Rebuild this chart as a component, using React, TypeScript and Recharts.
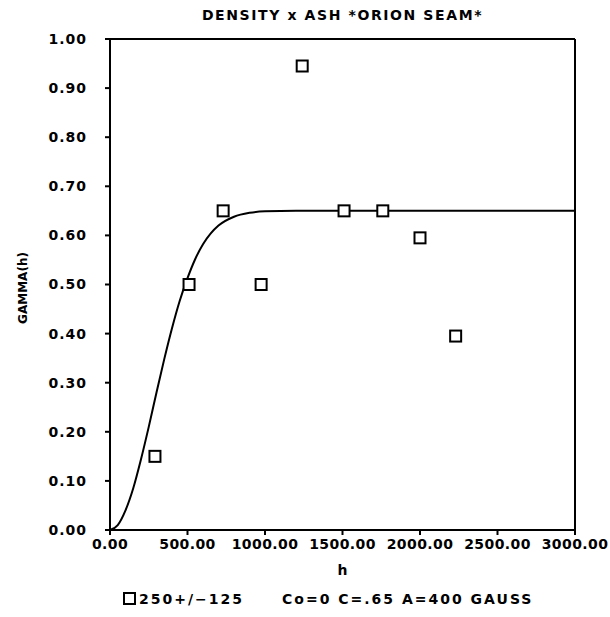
import { ComposedChart, Line, Scatter, XAxis, YAxis, ReferenceLine } from 'recharts';

// experimental variogram points (lag h, gamma)
const lagH = [290, 510, 730, 975, 1240, 1510, 1760, 2000, 2230];
const gammaObs = [0.15, 0.5, 0.65, 0.5, 0.945, 0.65, 0.65, 0.595, 0.395];

// fitted gauss model curve
const modelH = [0, 50, 100, 150, 200, 250, 300, 350, 400, 450, 500, 550, 600, 650, 700, 800, 900, 1000, 1200, 1500, 2000, 2500, 3000];
const modelGamma = [0, 0.01, 0.04, 0.085, 0.144, 0.21, 0.28, 0.348, 0.411, 0.467, 0.513, 0.552, 0.582, 0.604, 0.62, 0.638, 0.646, 0.649, 0.65, 0.65, 0.65, 0.65, 0.65];

const xTicks = [0, 500, 1000, 1500, 2000, 2500, 3000];
const yTicks = [0, 0.1, 0.2, 0.3, 0.4, 0.5, 0.6, 0.7, 0.8, 0.9, 1.0];

const W = 610;
const H = 617;
const font = '"DejaVu Sans", sans-serif';
const yTickStyle = { fontFamily: font, fontSize: 14, fontWeight: 700, fill: '#000', letterSpacing: 1 };
const xTickStyle = { ...yTickStyle, letterSpacing: 0.4 };

function SquareMark(props: any) {
  const { cx, cy } = props;
  if (cx == null || cy == null) return null;
  return <rect x={cx - 5.5} y={cy - 5.5} width={11} height={11} fill="#fff" stroke="#000" strokeWidth={2} />;
}

export default function App() {
  const obs = lagH.map((h, i) => ({ h, g: gammaObs[i] }));
  const model = modelH.map((h, i) => ({ h, g: modelGamma[i] }));

  return (
    <div style={{ position: 'absolute', left: 0, top: 0, width: W, height: H, background: '#fff', fontFamily: font }}>
      <div
        style={{
          position: 'absolute', left: 0, width: 685, top: 7, textAlign: 'center',
          fontSize: 14, fontWeight: 700, letterSpacing: 1.6,
        }}
      >
        DENSITY x ASH *ORION SEAM*
      </div>
      <ComposedChart width={W} height={H} margin={{ top: 39, right: 35, bottom: 0, left: 0 }}>
        <XAxis
          type="number"
          dataKey="h"
          domain={[0, 3000]}
          ticks={xTicks}
          tickFormatter={(v) => Number(v).toFixed(2)}
          tick={xTickStyle}
          tickSize={5}
          tickMargin={4}
          height={87}
          stroke="#000"
          strokeWidth={2}
          interval={0}
        />
        <YAxis
          type="number"
          dataKey="g"
          domain={[0, 1]}
          ticks={yTicks}
          tickFormatter={(v) => Number(v).toFixed(2)}
          tick={yTickStyle}
          tickSize={5}
          tickMargin={18}
          width={110}
          stroke="#000"
          strokeWidth={2}
          interval={0}
          label={() => (
            <text
              x={23}
              y={288}
              transform="rotate(-90 23 288)"
              textAnchor="middle"
              dominantBaseline="central"
              style={{ fontFamily: font, fontSize: 12, fontWeight: 700, fill: '#000' }}
            >
              GAMMA(h)
            </text>
          )}
        />
        <ReferenceLine y={1} stroke="#000" strokeWidth={2} />
        <ReferenceLine x={3000} stroke="#000" strokeWidth={2} />
        <Line
          data={model}
          dataKey="g"
          type="monotone"
          stroke="#000"
          strokeWidth={2}
          dot={false}
          activeDot={false}
          isAnimationActive={false}
        />
        <Scatter data={obs} dataKey="g" shape={<SquareMark />} isAnimationActive={false} />
      </ComposedChart>
      <div style={{ position: 'absolute', left: 0, width: 685, top: 562, textAlign: 'center', fontSize: 14, fontWeight: 700 }}>
        h
      </div>
      <div style={{ position: 'absolute', left: 123, top: 591, fontSize: 14, fontWeight: 700, letterSpacing: 2, whiteSpace: 'pre', display: 'flex', alignItems: 'center' }}>
        <svg width={14} height={14} style={{ marginRight: 2 }}>
          <rect x={1} y={1} width={11} height={11} fill="#fff" stroke="#000" strokeWidth={2} />
        </svg>
        <span>250+/−125</span>
        <span style={{ marginLeft: 38 }}>Co=0 C=.65 A=400 GAUSS</span>
      </div>
    </div>
  );
}
